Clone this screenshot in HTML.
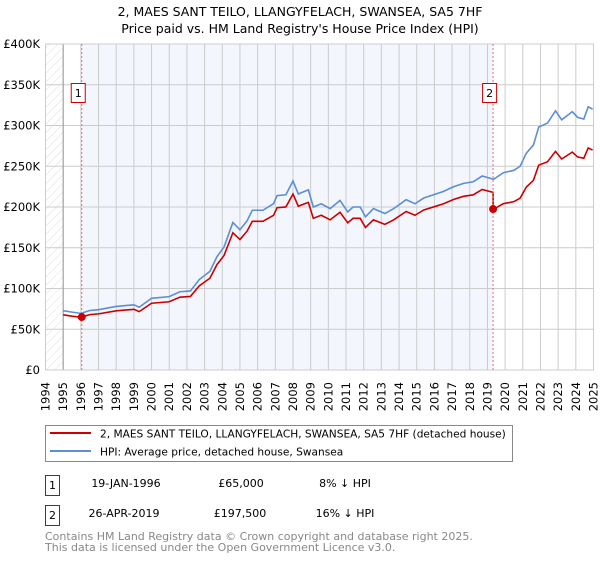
<!DOCTYPE html>
<html><head><meta charset="utf-8"><style>
body{margin:0;background:#fff;font-family:"DejaVu Sans","Liberation Sans",sans-serif;}
svg text{font-family:"DejaVu Sans","Liberation Sans",sans-serif;}
</style></head><body>
<svg id="chart" width="600" height="560" xmlns="http://www.w3.org/2000/svg">
<defs><pattern id="hatch" width="6" height="6" patternUnits="userSpaceOnUse" patternTransform="rotate(45)"><line x1="0" y1="0" x2="0" y2="6" stroke="#ddd" stroke-width="1"/></pattern></defs>
<text x="300" y="16" text-anchor="middle" font-size="12.5">2, MAES SANT TEILO, LLANGYFELACH, SWANSEA, SA5 7HF</text>
<text x="300" y="33" text-anchor="middle" font-size="12.5">Price paid vs. HM Land Registry's House Price Index (HPI)</text>
<g id="plot"></g>
<g>
<rect x="45.5" y="425.5" width="467" height="36" fill="#fff" stroke="#888"/>
<line x1="50" y1="433" x2="91" y2="433" stroke="#cc0000" stroke-width="2"/>
<text x="100" y="437.5" font-size="10.6">2, MAES SANT TEILO, LLANGYFELACH, SWANSEA, SA5 7HF (detached house)</text>
<line x1="50" y1="451" x2="91" y2="451" stroke="#5b8ed6" stroke-width="2"/>
<text x="100" y="455.5" font-size="10.6">HPI: Average price, detached house, Swansea</text>
</g>
<g font-size="11">
<rect x="45.5" y="475.5" width="14" height="20" fill="#fff" stroke="#cc0000"/>
<text x="52.5" y="489" text-anchor="middle">1</text>
<text x="126" y="487" text-anchor="middle">19-JAN-1996</text>
<text x="241" y="487" text-anchor="middle">£65,000</text>
<text x="345" y="487" text-anchor="middle">8% ↓ HPI</text>
<rect x="45.5" y="505.5" width="14" height="20" fill="#fff" stroke="#cc0000"/>
<text x="52.5" y="519" text-anchor="middle">2</text>
<text x="124" y="517" text-anchor="middle">26-APR-2019</text>
<text x="240" y="517" text-anchor="middle">£197,500</text>
<text x="345" y="517" text-anchor="middle">16% ↓ HPI</text>
</g>
<text x="45" y="540" font-size="11" fill="#888">Contains HM Land Registry data © Crown copyright and database right 2025.</text>
<text x="45" y="551" font-size="11" fill="#888">This data is licensed under the Open Government Licence v3.0.</text>
</svg>
<script>
const hpiYears=[1995.0,1995.5,1996.0,1996.5,1997.0,1998.0,1999.0,1999.3,2000.0,2001.0,2001.6,2002.2,2002.7,2003.3,2003.7,2004.1,2004.6,2005.0,2005.4,2005.7,2006.3,2006.9,2007.1,2007.6,2008.0,2008.3,2008.87,2009.15,2009.6,2010.1,2010.66,2011.1,2011.4,2011.8,2012.1,2012.55,2013.2,2013.7,2014.4,2014.9,2015.4,2015.95,2016.5,2017.1,2017.65,2018.2,2018.7,2019.35,2019.9,2020.5,2020.85,2021.2,2021.6,2021.9,2022.4,2022.85,2023.2,2023.8,2024.1,2024.45,2024.7,2024.95];
const hpiValues=[72.8,71,69.5,73,74,78,80,77,88,90,96,97,111,121,139,151,181,172,183,196,196,204,214,215,232,216,221,200,204,198,208,194,200,200,188,198,192,198,209,204,211,215,219,225,229,231,238,234,242,245,250,266,276,298,303,318,307,317,310,308,323,320];
const saleYears=[1996.05,2019.32];
const salePrices=[65,197.5];
const saleLabels=["1","2"];
const yTicks=[0,50,100,150,200,250,300,350,400];
const yTickLabels=["£0","£50K","£100K","£150K","£200K","£250K","£300K","£350K","£400K"];
const xTicks=[1994,1995,1996,1997,1998,1999,2000,2001,2002,2003,2004,2005,2006,2007,2008,2009,2010,2011,2012,2013,2014,2015,2016,2017,2018,2019,2020,2021,2022,2023,2024,2025];

const NS="http://www.w3.org/2000/svg";
const X0=45.5,X1=593.5,Y0=370,Y1=44;
const xs=y=>X0+(y-1994)/(2025-1994)*(X1-X0);
const ys=v=>Y0-(v/400)*(Y0-Y1);
const g=document.getElementById('plot');
function mk(t,a){const e=document.createElementNS(NS,t);for(const k in a)e.setAttribute(k,a[k]);g.appendChild(e);return e;}
let e;
e=mk('rect',{x:X0,y:Y1,width:X1-X0,height:Y0-Y1,fill:'#fff'});


e=mk('rect',{x:X0,y:Y1,width:xs(1995)-X0,height:Y0-Y1,fill:'url(#hatch)'});


e=mk('rect',{x:xs(saleYears[0]),y:Y1,width:xs(saleYears[1])-xs(saleYears[0]),height:Y0-Y1,fill:'#f3f6fd'});


yTicks.forEach((t,i)=>{
 e=mk('line',{x1:X0,x2:X1,y1:ys(t),y2:ys(t),stroke:'#ccc'});
 
 
 e=mk('text',{x:40,y:ys(t)+4,'text-anchor':'end','font-size':'11.5'});e.textContent=yTickLabels[i];
 
 
});
xTicks.forEach(t=>{
 e=mk('line',{x1:xs(t),x2:xs(t),y1:Y1,y2:Y0,stroke:'#ccc'});
 
 
 const x=xs(t)+4;
 e=mk('text',{x:x,y:382,'text-anchor':'end','font-size':'11.5',transform:`rotate(-90 ${x} 382)`});e.textContent=t;
 
 
});
e=mk('line',{x1:xs(1995),x2:xs(1995),y1:Y1,y2:Y0,stroke:'#999'});


e=mk('line',{x1:X1,x2:X1,y1:Y1,y2:Y0,stroke:'#999'});


e=mk('rect',{x:X0,y:Y1,width:X1-X0,height:Y0-Y1,fill:'none',stroke:'#ccc'});


e=mk('polyline',{points:hpiYears.map((y,i)=>xs(y)+','+ys(hpiValues[i])).join(' '),fill:'none',stroke:'#5b8ed6','stroke-width':1.6});


function hpiAt(y){for(let i=1;i<hpiYears.length;i++){if(y<=hpiYears[i]){const f=(y-hpiYears[i-1])/(hpiYears[i]-hpiYears[i-1]);return hpiValues[i-1]+f*(hpiValues[i]-hpiValues[i-1]);}}return hpiValues[hpiValues.length-1];}
const r0=salePrices[0]/hpiAt(saleYears[0]),r1=salePrices[1]/hpiAt(saleYears[1]);
const pts=[];
hpiYears.forEach((y,i)=>{
 if(y<saleYears[1])pts.push([y,hpiValues[i]*r0]);
 else{ if(pts.length&&pts[pts.length-1][0]<saleYears[1]){pts.push([saleYears[1],hpiAt(saleYears[1])*r0]);pts.push([saleYears[1],salePrices[1]]);} pts.push([y,hpiValues[i]*r1]); }
});
e=mk('polyline',{points:pts.map(p=>xs(p[0])+','+ys(p[1])).join(' '),fill:'none',stroke:'#cc0000','stroke-width':1.6});


saleYears.forEach((y,i)=>{
 e=mk('line',{x1:xs(y),x2:xs(y),y1:Y1,y2:Y0,stroke:'#f66','stroke-dasharray':'2,2'});
 
 
 e=mk('circle',{cx:xs(y),cy:ys(salePrices[i]),r:4,fill:'#cc0000'});
 
 
 e=mk('rect',{x:xs(y)-10.5,y:83.5,width:14,height:19,fill:'#fff',stroke:'#cc0000'});
 
 
 e=mk('text',{x:xs(y)-3.5,y:97,'text-anchor':'middle','font-size':'11'});e.textContent=saleLabels[i];
 
 
});
</script>
</body></html>
